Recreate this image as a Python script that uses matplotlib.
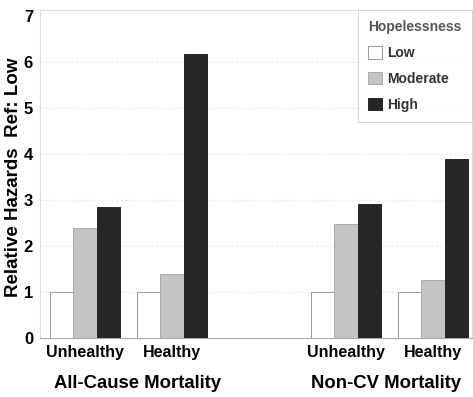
import matplotlib
matplotlib.use("Agg")
import matplotlib.pyplot as plt
import numpy as np

plt.rcParams['font.family'] = ['Liberation Sans', 'DejaVu Sans']
plt.rcParams['font.weight'] = 'bold'

groups = ["All-Cause Mortality", "Non-CV Mortality"]
subgroups = ["Unhealthy", "Healthy", "Unhealthy", "Healthy"]
positions = [0, 1, 3, 4]
levels = ["Low", "Moderate", "High"]
low = [1.0, 1.0, 1.0, 1.0]
moderate = [2.40, 1.40, 2.48, 1.26]
high = [2.85, 6.18, 2.92, 3.90]
colors = ["#ffffff", "#c4c4c4", "#262626"]
edges = ["#9a9a9a", "#aaaaaa", "#262626"]

fig = plt.figure(figsize=(4.73, 3.97), dpi=100)
ax = fig.add_axes([40/473, 1-338/397, 432/473, 328/397])

w = 0.27
pos = np.array(positions, dtype=float)
for i, (vals, c, ec, lab) in enumerate(zip([low, moderate, high], colors, edges, levels)):
    ax.bar(pos + (i-1)*w, vals, width=w, color=c, edgecolor=ec, linewidth=0.7, label=lab, zorder=3)

ax.set_xlim(-0.52, 4.45)
ax.set_ylim(0, 7.13)
ax.set_yticks(range(0, 8))
ax.set_yticklabels([str(i) for i in range(8)], fontsize=12, fontweight='bold')
ax.tick_params(axis='y', length=0, pad=5)
ax.tick_params(axis='x', length=0, pad=5)
ax.set_xticks(pos)
ax.set_xticklabels(subgroups, fontsize=11.5, fontweight='bold')
for y in range(1, 7):
    ax.axhline(y, color='#e8e8e8', linewidth=0.8, linestyle=(0, (2, 2)), zorder=1)
for s in ['top', 'right', 'left']:
    ax.spines[s].set_color('#dddddd')
    ax.spines[s].set_linewidth(0.8)
ax.spines['bottom'].set_color('#aaaaaa')
ax.spines['bottom'].set_linewidth(0.8)

fig.text(14/473, 1-177/397, "Relative Hazards  Ref: Low", rotation=90, ha='center', va='center',
         fontsize=13.5, fontweight='bold')

fig.text(137/473, 1-383/397, groups[0], ha='center', va='center', fontsize=13.3, fontweight='bold')
fig.text(386/473, 1-383/397, groups[1], ha='center', va='center', fontsize=13.3, fontweight='bold')

leg = ax.legend(title="Hopelessness", loc='upper right', bbox_to_anchor=(472/473, 1-10/397),
                bbox_transform=fig.transFigure, borderaxespad=0, fontsize=10, title_fontsize=10,
                frameon=True, fancybox=False, edgecolor='#cccccc', handlelength=1.0,
                handleheight=1.0, handletextpad=0.35, labelspacing=0.85, borderpad=0.75,
                alignment='left')
leg.get_frame().set_linewidth(0.8)
leg.get_title().set_fontweight('bold')
leg.get_title().set_color('#555555')
for t in leg.get_texts():
    t.set_fontweight('bold')
    t.set_color('#333333')

fig.savefig("out.png", dpi=100)
